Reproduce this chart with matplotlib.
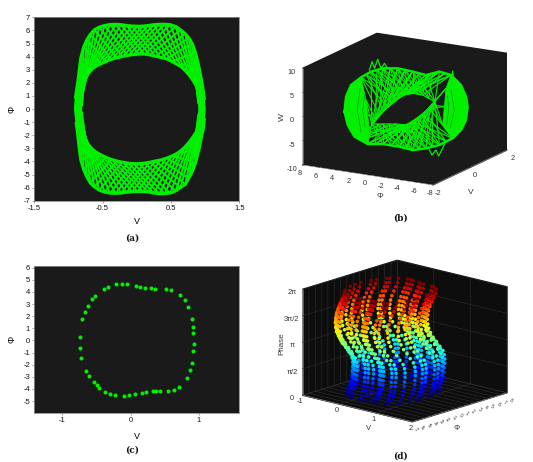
import numpy as np
import matplotlib
matplotlib.use("Agg")
import matplotlib.pyplot as plt
from matplotlib.collections import LineCollection
from mpl_toolkits.mplot3d.art3d import Poly3DCollection, Line3DCollection

W_PX, H_PX = 533, 462
GREEN = "#00f000"
DARK = "#1a1a1a"

# ---------- panel (a): envelope of the V-Phi trajectory, read at stations ----------
a_outer_top_v = [-.90,-.88,-.86,-.84,-.82,-.78,-.73,-.68,-.62,-.55,-.47,-.39,-.31,-.23,-.15,-.07,.01,.09,.17,.25,.33,.41,.49,.57,.64,.71,.76,.81,.86,.91,.94,.97,.99]
a_outer_top_phi = [.8,1.5,2.2,3.1,3.9,4.7,5.3,5.7,6.05,6.25,6.38,6.45,6.47,6.44,6.38,6.34,6.32,6.33,6.38,6.44,6.47,6.47,6.44,6.3,6.05,5.75,5.45,5.0,4.3,3.2,2.4,1.5,.7]
a_inner_top_v = [-.8,-.8,-.8,-.8,-.79,-.77,-.74,-.70,-.65,-.59,-.52,-.45,-.37,-.29,-.21,-.13,-.05,.03,.11,.19,.27,.35,.43,.51,.58,.65,.71,.77,.82,.85,.88,.895,.9]
a_inner_top_phi = [.2,.5,.8,1.05,1.3,1.9,2.4,2.75,3.05,3.27,3.45,3.62,3.78,3.9,4.0,4.08,4.14,4.18,4.18,4.12,4.02,3.92,3.82,3.62,3.42,3.2,2.9,2.55,2.2,1.9,1.45,.9,.4]
a_outer_bot_v = [-.89,-.87,-.86,-.84,-.82,-.78,-.73,-.68,-.62,-.55,-.47,-.39,-.31,-.23,-.15,-.07,.01,.09,.17,.25,.33,.41,.49,.57,.64,.71,.76,.81,.86,.91,.94,.97,.99]
a_outer_bot_phi = [-1,-1.7,-2.2,-3.1,-3.9,-4.6,-5.2,-5.65,-5.95,-6.2,-6.35,-6.42,-6.44,-6.42,-6.36,-6.32,-6.3,-6.3,-6.34,-6.42,-6.46,-6.46,-6.42,-6.25,-6.0,-5.75,-5.3,-4.8,-4.1,-3.1,-2.3,-1.6,-.7]
a_inner_bot_v = [-.8,-.8,-.79,-.79,-.79,-.77,-.74,-.70,-.65,-.59,-.52,-.45,-.37,-.29,-.21,-.13,-.05,.03,.11,.19,.27,.35,.43,.51,.58,.65,.71,.77,.82,.85,.88,.895,.9]
a_inner_bot_phi = [-.2,-.5,-.8,-1.05,-1.3,-1.9,-2.4,-2.75,-3.05,-3.3,-3.5,-3.68,-3.84,-3.96,-4.05,-4.12,-4.16,-4.16,-4.12,-4.05,-3.96,-3.88,-3.75,-3.58,-3.4,-3.15,-2.85,-2.5,-2.15,-1.85,-1.47,-.9,-.4]
a_left_v = [-.82,-.85,-.87,-.91,-.92,-.90,-.87,-.85,-.82,-.74,-.78,-.80,-.78,-.74]
a_left_phi = [3.9,3.1,2.2,.8,0,-1,-2.2,-3.1,-3.9,-2.4,-1.5,0,1.5,2.4]
a_right_v = [.86,.92,.95,.98,1.01,.98,.95,.92,.86,.77,.88,.90,.88,.77]
a_right_phi = [4.3,3.2,2.4,1.5,0,-1.6,-2.3,-3.1,-4.1,-2.5,-1.47,0,1.45,2.55]

# ---------- panel (c): Poincare section points ----------
c_v = [-.746,-.741,-.722,-.654,-.61,-.537,-.498,-.459,-.37,-.307,-.234,-.098,-.02,.059,.171,.224,.322,.371,.429,.551,.629,.702,.82,.863,.893,.912,.922,.917,.907,.898,.844,.795,.727,.59,.517,.351,.298,.205,.141,.078,-.054,-.132,-.21,-.337,-.39,-.522,-.561,-.629,-.673,-.712]
c_phi = [.28,-.63,-1.45,-2.53,-2.97,-3.46,-3.71,-3.93,-4.26,-4.42,-4.53,-4.59,-4.53,-4.45,-4.31,-4.26,-4.2,-4.2,-4.2,-4.15,-4.07,-3.82,-3.08,-2.47,-1.87,-.85,-.33,.61,1.13,1.74,2.78,3.33,3.77,4.16,4.24,4.27,4.29,4.32,4.4,4.49,4.62,4.65,4.62,4.4,4.24,3.66,3.41,2.84,2.37,1.76]

# ---------- panel (b): rim stations of the torus in (V, Phi, W) ----------
b_outer_v = [-.6,-.59,-.54,-.44,-.34,-.22,-.07,.08,.21,.35,.46,.56,.61,.63,.61,.56,.48,.35,.21,.08,-.06,-.22,-.37,-.5,-.57]
b_outer_phi = [6.05,5.88,5.38,4.38,3.38,2.22,.72,-.78,-2.12,-3.45,-4.62,-5.62,-6.12,-6.28,-6.12,-5.62,-4.78,-3.45,-2.12,-.78,.55,2.22,3.72,5.05,5.72]
b_outer_w = [-.99,2.13,4.58,6.25,7.5,8.28,8.39,7.82,7.23,8.03,7.43,5.43,3.06,1.01,-1.77,-3.88,-5.66,-7.14,-7.94,-8.39,-7.8,-7.38,-7.5,-6.08,-3.72]
b_top_o_v = [-.44,-.39,-.34,-.28,-.22,-.145,-.07,.005,.08,.145,.21,.28,.35,.405,.46]
b_top_o_phi = [4.38,3.88,3.38,2.8,2.22,1.47,.72,-.03,-.78,-1.45,-2.12,-2.78,-3.45,-4.03,-4.62]
b_top_o_w = [6.25,6.9,7.5,7.9,8.28,8.35,8.39,8.1,7.82,7.5,7.23,7.65,8.03,7.75,7.43]
b_top_i_v = [-.33,-.295,-.26,-.215,-.17,-.13,-.09,-.055,-.02,.03,.08,.13,.18,.24,.3]
b_top_i_phi = [3.32,2.93,2.55,2.13,1.72,1.3,.88,.52,.15,-.31,-.78,-1.28,-1.78,-2.4,-3.02]
b_top_i_w = [-3.32,-2.35,-1.41,-.58,.25,1.04,1.83,2.38,2.92,3.13,3.34,3.2,3.07,2.43,1.79]
b_bot_o_v = [.48,.415,.35,.28,.21,.145,.08,.01,-.06,-.14,-.22,-.295,-.37,-.435,-.5]
b_bot_o_phi = [-4.78,-4.12,-3.45,-2.78,-2.12,-1.45,-.78,-.12,.55,1.38,2.22,2.97,3.72,4.38,5.05]
b_bot_o_w = [-5.66,-6.4,-7.14,-7.54,-7.94,-8.17,-8.39,-8.1,-7.8,-7.6,-7.38,-7.44,-7.5,-6.8,-6.08]
b_bot_i_v = [.3,.275,.25,.205,.16,.12,.08,.05,.02,-.035,-.09,-.155,-.22,-.275,-.33]
b_bot_i_phi = [-3.02,-2.73,-2.45,-2.03,-1.62,-1.2,-.78,-.48,-.18,.35,.88,1.55,2.22,2.77,3.32]
b_bot_i_w = [1.79,1.08,.37,-.35,-1.08,-1.8,-2.52,-2.89,-3.26,-3.2,-3.14,-3.19,-3.24,-3.28,-3.32]
b_lobe_l_v = [-.39,-.37,-.36]
b_lobe_l_phi = [3.88,3.72,3.55]
b_lobe_l_w = [1.59,-1.5,-4.24]
b_lobe_r_v = [.38,.40,.41]
b_lobe_r_phi = [-3.78,-3.95,-4.12]
b_lobe_r_w = [-2.98,.82,4.63]
b_spike1_v = [-.36,-.33,-.3,-.27,-.24,-.2,-.17]
b_spike1_phi = [3.55,3.28,3.05,2.72,2.38,2.05,1.72]
b_spike1_w = [7.83,9.57,8.21,10.1,8.26,9.32,8.32]
b_spike2_v = [.25,.27,.31,.34,.38,.41]
b_spike2_phi = [-2.45,-2.72,-3.12,-3.38,-3.78,-4.05]
b_spike2_w = [-8.26,-9.27,-8.21,-9.43,-7.81,-6.41]
b_spike3_v = [.46,.48,.49]
b_spike3_phi = [-4.65,-4.78,-4.9]
b_spike3_w = [6.05,8.27,6.0]
b_streak_v = [[-.45,-.48,-.44], [-.4,-.42,-.4], [.46,.5,.45], [.43,.44,.42]]
b_streak_phi = [[4.48,4.75,4.38], [4.02,4.22,3.98], [-4.62,-4.95,-4.52], [-4.28,-4.38,-4.18]]
b_streak_w = [[3.97,-.54,-4.99], [2.62,-.5,-3.93], [4.32,.21,-3.61], [3.26,.17,-2.95]]

# ---------- panel (d): phase rows and how far each row is displaced ----------
d_row_frac = [0,.04,.08,.12,.165,.205,.25,.29,.33,.37,.41,.455,.495,.54,.58,.62,.665,.705,.745,.785,.83,.87,.91,.95]
d_shift_v = [.08,.10,.13,.15,.16,.16,.17,.17,.16,.14,.09,.04,-.01,-.05,-.08,-.09,-.10,-.09,-.08,-.06,-.03,0,.03,.04]
d_shift_phi = [.37,.47,.58,.67,.72,.74,.77,.77,.74,.63,.42,.19,-.05,-.23,-.35,-.42,-.44,-.42,-.37,-.28,-.14,0,.12,.19]
d_phase_ticks = [0, .5*np.pi, np.pi, 1.5*np.pi, 2*np.pi]
d_phase_labels = ["0", "\u03c0/2", "\u03c0", "3\u03c0/2", "2\u03c0"]
d_phi_ticks = list(range(-7, 9))

plt.rcParams["font.family"] = ["Liberation Sans", "DejaVu Sans"]
plt.rcParams["axes.unicode_minus"] = False
fig = plt.figure(figsize=(W_PX/100, H_PX/100), dpi=100)

def rect(x0, y0, x1, y1):
    return [x0/W_PX, 1-y1/H_PX, (x1-x0)/W_PX, (y1-y0)/H_PX]

def ftext(x, y, s, **kw):
    kw.setdefault("ha", "center"); kw.setdefault("va", "center")
    fig.text(x/W_PX, 1-y/H_PX, s, **kw)

def chord_segments(p, q, offsets):
    segs = []
    n, m = len(p), len(q)
    for i in range(n):
        for k in offsets:
            j = i + k
            if 0 <= j < m:
                segs.append([p[i], q[j]])
    return segs

def style2d(ax):
    ax.set_facecolor(DARK)
    for s in ax.spines.values():
        s.set_color("#8c8c8c"); s.set_linewidth(.6)
    ax.tick_params(labelsize=5.5, length=1.5, width=.4, color="#555555", pad=1.5, labelcolor="#111111")

# (a)
axa = fig.add_axes(rect(34.3, 17.3, 239.3, 200.7))
style2d(axa)
axa.set_xlim(-1.5, 1.5); axa.set_ylim(-7, 7)
axa.set_xticks([-1.5, -.5, .5, 1.5]); axa.set_xticklabels(["-1.5", "-0.5", "0.5", "1.5"])
axa.set_yticks(range(-7, 8))
axa.fill(a_left_v, a_left_phi, color=GREEN, lw=0)
axa.fill(a_right_v, a_right_phi, color=GREEN, lw=0)
for ov, op, iv, ip in ((a_outer_top_v, a_outer_top_phi, a_inner_top_v, a_inner_top_phi),
                       (a_outer_bot_v, a_outer_bot_phi, a_inner_bot_v, a_inner_bot_phi)):
    P = np.column_stack([ov, op])
    Q = np.column_stack([iv, ip])
    segs = chord_segments(P, Q, [-5, 5])
    axa.add_collection(LineCollection(segs, colors=GREEN, linewidths=1.5, capstyle="butt"))
    axa.plot(P[:, 0], P[:, 1], color=GREEN, lw=2.2, solid_capstyle="butt")
    axa.plot(Q[4:-4, 0], Q[4:-4, 1], color=GREEN, lw=2.0, solid_capstyle="round")
axa.set_xlabel("V", fontsize=6.5); axa.xaxis.set_label_coords(.5, -.087)
axa.set_ylabel("\u03a6", fontsize=6.5); axa.yaxis.set_label_coords(-.085, .5)

# (c)
axc = fig.add_axes(rect(34.3, 266, 239.3, 412.7))
style2d(axc)
axc.set_xlim(-1.41, 1.59); axc.set_ylim(-5.96, 6.14)
axc.set_xticks([-1, 0, 1]); axc.set_yticks(range(-5, 7))
axc.scatter(c_v, c_phi, s=8.5, color=GREEN, lw=0)
axc.set_xlabel("V", fontsize=6.5); axc.xaxis.set_label_coords(.5, -.13)
axc.set_ylabel("\u03a6", fontsize=6.5); axc.yaxis.set_label_coords(-.085, .5)

def fit3d(ax, corner_a, target_a, corner_b, target_b):
    """Scale and move a 3D axes so that two box corners land on given pixels."""
    from mpl_toolkits.mplot3d import proj3d
    def measure():
        fig.canvas.draw()
        out = []
        for c in (corner_a, corner_b):
            x, y, _ = proj3d.proj_transform(*c, ax.get_proj())
            px = ax.transData.transform((x, y))
            out.append((px[0], H_PX - px[1]))
        return out
    for _ in range(3):
        (ax0, ay0), (bx0, by0) = measure()
        pos = ax.get_position(original=True)
        f = (target_b[0]-target_a[0]) / (bx0-ax0)
        x0, y0, w, h = pos.x0*W_PX, pos.y0*H_PX, pos.width*W_PX, pos.height*H_PX
        cx, cy = x0+w/2, y0+h/2
        w2, h2 = w*f, h*f
        cur_mid = ((ax0+bx0)/2, (ay0+by0)/2)
        tgt_mid = ((target_a[0]+target_b[0])/2, (target_a[1]+target_b[1])/2)
        dx = tgt_mid[0]-(cx+(cur_mid[0]-cx)*f)
        dy = -(tgt_mid[1]-(H_PX-(cy+((H_PX-cur_mid[1])-cy)*f)))
        ax.set_position([(cx+dx-w2/2)/W_PX, (cy+dy-h2/2)/H_PX, w2/W_PX, h2/H_PX])

def style3d(ax, pane, grid):
    for axis in (ax.xaxis, ax.yaxis, ax.zaxis):
        axis.set_pane_color(pane)
        axis.pane.set_edgecolor(pane)
        axis.line.set_color("#9a9a9a"); axis.line.set_linewidth(.4)
        axis._axinfo["tick"]["inward_factor"] = 0.0
        axis._axinfo["tick"]["outward_factor"] = 0.12
        axis._axinfo["tick"]["linewidth"] = {True: .3, False: .2}
        axis._axinfo["tick"]["color"] = "#777777"
        axis._axinfo["grid"]["color"] = "#3a3a3a"
        axis._axinfo["grid"]["linewidth"] = .3
    ax.grid(grid)
    ax.patch.set_alpha(0)

# (b)
axb = fig.add_axes([.5, .6, .45, .4], projection="3d", proj_type="ortho", computed_zorder=False)
axb.view_init(elev=15.6, azim=209.7)
axb.set_box_aspect((1, 1, .67))
axb.set_xlim(-2, 2, view_margin=0); axb.set_ylim(-8, 8, view_margin=0); axb.set_zlim(-10, 10, view_margin=0)
style3d(axb, DARK, False)
axb.set_xticks([-2, 0, 2]); axb.set_yticks(range(-8, 9, 2)); axb.set_zticks(range(-10, 11, 5))
axb.tick_params(labelsize=5.3, pad=-4.5, labelcolor="#333333")
axb.tick_params(axis="z", pad=-3.5)
Bo = np.column_stack([b_outer_v, b_outer_phi, b_outer_w])
BlobeL = np.column_stack([b_lobe_l_v, b_lobe_l_phi, b_lobe_l_w])
BlobeR = np.column_stack([b_lobe_r_v, b_lobe_r_phi, b_lobe_r_w])
BtO = np.column_stack([b_top_o_v, b_top_o_phi, b_top_o_w])
BtI = np.column_stack([b_top_i_v, b_top_i_phi, b_top_i_w])
BbO = np.column_stack([b_bot_o_v, b_bot_o_phi, b_bot_o_w])
BbI = np.column_stack([b_bot_i_v, b_bot_i_phi, b_bot_i_w])
polyL = np.vstack([Bo[22:], Bo[:4], BlobeL])
polyR = np.vstack([Bo[10:17], BlobeR])
axb.add_collection3d(Poly3DCollection([polyL, polyR], facecolor=GREEN, edgecolor=GREEN, lw=.5))
offsets = [-6, -4, -2, 2, 4, 6]
segs = chord_segments(BtO, BtI, offsets) + chord_segments(BbO, BbI, offsets)
segs += chord_segments(BlobeL, BtI[:4], [0, 1]) + chord_segments(BlobeR, BbI[:4], [0, 1])
axb.add_collection3d(Line3DCollection(segs, colors=GREEN, linewidths=.8))
closed = np.vstack([Bo, Bo[:1]])
axb.plot(closed[:, 0], closed[:, 1], closed[:, 2], color=GREEN, lw=1.8)
for arr in (BtI, BbI):
    axb.plot(arr[:, 0], arr[:, 1], arr[:, 2], color=GREEN, lw=.9)
for sv, sp, sw in ((b_spike1_v, b_spike1_phi, b_spike1_w), (b_spike2_v, b_spike2_phi, b_spike2_w), (b_spike3_v, b_spike3_phi, b_spike3_w)):
    axb.plot(sv, sp, sw, color=GREEN, lw=.9)
for sv, sp, sw in zip(b_streak_v, b_streak_phi, b_streak_w):
    axb.plot(sv, sp, sw, color="#007000", lw=.35)
fit3d(axb, (-2, 8, -10), (302.7, 165), (2, -8, -10), (507, 150))

# (d)
axd = fig.add_axes([.5, .05, .45, .4], projection="3d", proj_type="ortho")
axd.view_init(elev=15.8, azim=-48.4)
axd.set_box_aspect((1, .97, .75))
axd.set_xlim(-1, 2, view_margin=0); axd.set_ylim(-7, 8, view_margin=0); axd.set_zlim(0, 2*np.pi, view_margin=0)
style3d(axd, "#0d0d0d", True)
axd.set_xticks([-1, 0, 1, 2]); axd.set_yticks(d_phi_ticks); axd.set_zticks(d_phase_ticks); axd.set_zticklabels(d_phase_labels)
axd.tick_params(labelsize=5.3, pad=-6, labelcolor="#333333")
axd.tick_params(axis="y", labelsize=3.6, pad=-5, labelrotation=-35)
axd.tick_params(axis="z", pad=-3.5)
axd.zaxis.set_ticks_position("lower")
keep = np.arange(len(c_v)) % 4 != 3
sec_v = np.array(c_v)[keep]
sec_phi = np.array(c_phi)[keep]
xs, ys, zs = [], [], []
for frac, sv, sp in zip(d_row_frac, d_shift_v, d_shift_phi):
    xs.append(sec_v + sv); ys.append(sec_phi + sp); zs.append(np.full(sec_v.shape, frac*2*np.pi))
axd.scatter(np.concatenate(xs), np.concatenate(ys), np.concatenate(zs), c=np.concatenate(zs), cmap="jet",
            vmin=0, vmax=.95*2*np.pi, s=6.5, lw=0, depthshade=False)
fit3d(axd, (-1, -7, 0), (302.7, 396), (2, 8, 0), (507, 392))

# axis titles and captions placed in figure pixels
ftext(380, 197, "\u03a6", fontsize=6, color="#333333")
ftext(471, 193, "V", fontsize=6, color="#333333")
ftext(282, 117, "W", fontsize=6, rotation=90, color="#333333")
ftext(369, 429, "V", fontsize=5.6, color="#333333")
ftext(457, 428, "\u03a6", fontsize=5.6, color="#333333")
ftext(282, 344, "Phase", fontsize=5.8, rotation=90, color="#333333")
for x, y, s in ((132, 238, "(a)"), (400, 218.5, "(b)"), (132, 450, "(c)"), (400, 456, "(d)")):
    ftext(x, y, s, fontsize=6.5, fontweight="bold", family="DejaVu Serif", color="#111111")

fig.savefig("out.png", dpi=100)
